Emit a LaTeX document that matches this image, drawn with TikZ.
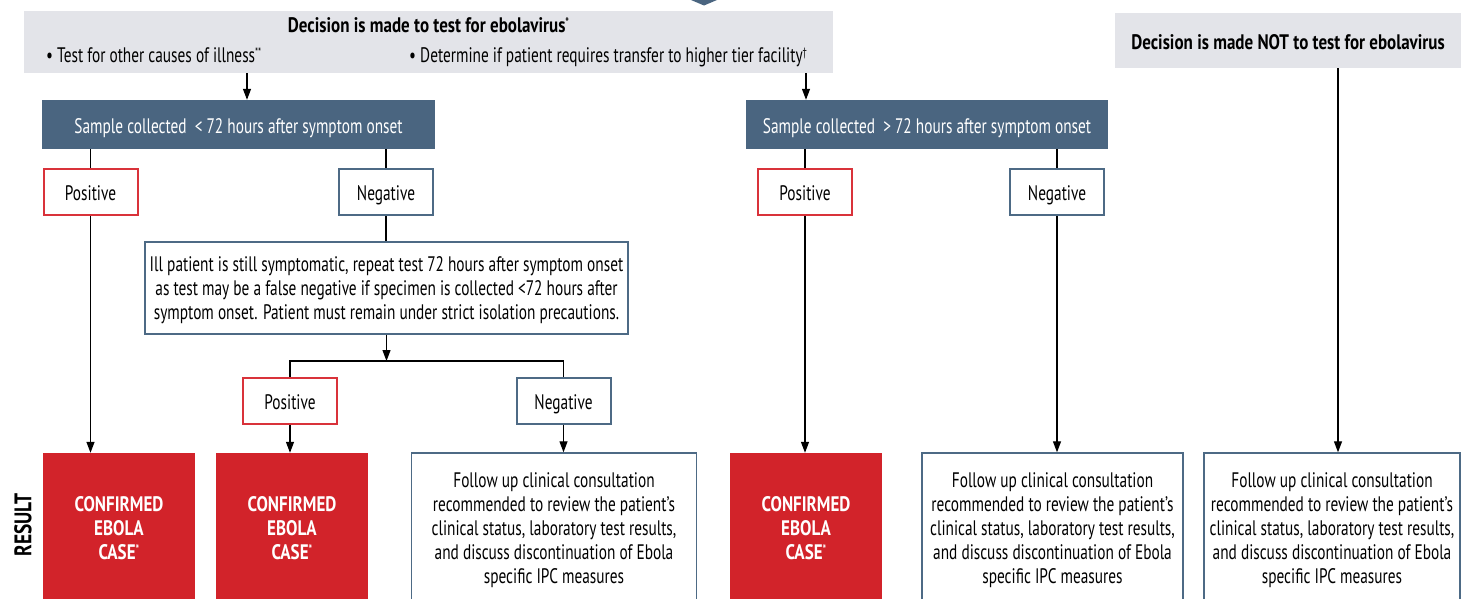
\documentclass[tikz,border=0pt]{standalone}
\usepackage{fontspec}
\setmainfont{PT Sans}[FakeStretch=0.73, BoldFeatures={FakeStretch=0.81}]
\usetikzlibrary{arrows.meta}
\definecolor{grayc}{HTML}{E3E4E9}
\definecolor{darkc}{HTML}{4A6580}
\definecolor{redc}{HTML}{D2232A}
\definecolor{posc}{HTML}{D9323A}
\definecolor{negc}{HTML}{4D6A85}
\newcommand{\txt}{\fontsize{21}{24}\selectfont}
\newcommand{\sstar}[1]{\raisebox{0.55ex}{\fontsize{12}{12}\selectfont #1}}
\tikzset{
  oneline/.style={text height=17pt, text depth=0pt},
  graybox/.style={fill=grayc, inner sep=0pt},
  darkbox/.style={fill=darkc, text=white, inner sep=0pt, font=\txt, oneline},
  posbox/.style={draw=posc, line width=2pt, fill=white, inner sep=0pt, minimum width=94pt, minimum height=46pt, font=\txt, oneline},
  negbox/.style={draw=negc, line width=2pt, fill=white, inner sep=0pt, minimum width=94pt, minimum height=46pt, font=\txt, oneline},
  redbox/.style={fill=redc, text=white, inner sep=0pt, minimum width=152pt, minimum height=150pt, align=center, font=\txt\bfseries, text depth=0pt},
  followbox/.style={draw=negc, line width=1.4pt, fill=white, inner sep=0pt, minimum height=150pt, align=center, font=\txt, text depth=0pt},
  conn/.style={line width=1.2pt, black},
  arr/.style={conn, -{Triangle[length=11pt,width=8pt]}},
  lbl/.style={inner sep=0pt, font=\txt}
}
\begin{document}
\begin{tikzpicture}[x=1pt, y=-1pt]
\useasboundingbox (0,0) rectangle (1461,598);
% top chevron
\fill[darkc] (691,0) -- (717,0) -- (704,5.5) -- cycle;
% gray decision box (test)
\node[graybox, minimum width=809pt, minimum height=62pt] (dec) at (428.5,42) {};
\node[lbl, anchor=base, font=\txt\bfseries] (dectitle) at (428.5,32) {Decision is made to test for ebolavirus\sstar{*}};
\node[lbl, anchor=base west] (bul1) at (46,62) {\textbullet\ Test for other causes of illness\sstar{**}};
\node[lbl, anchor=base west] (bul2) at (409,62) {\textbullet\ Determine if patient requires transfer to higher tier facility\sstar{\textdagger}};
% gray decision box (not test)
\node[graybox, oneline, minimum width=346pt, minimum height=55pt, font=\txt\bfseries] (notdec) at (1288,40.5) {Decision is made NOT to test for ebolavirus};
% sample boxes
\node[darkbox, minimum width=393pt, minimum height=49pt] (samp1) at (238.5,124.5) {Sample collected~ < 72 hours after symptom onset};
\node[darkbox, minimum width=362pt, minimum height=49pt] (samp2) at (927,124.5) {Sample collected~ > 72 hours after symptom onset};
% first results
\node[posbox] (pos1) at (90.5,192) {Positive};
\node[negbox] (neg1) at (386,192) {Negative};
\node[posbox] (pos3) at (805,192) {Positive};
\node[negbox] (neg3) at (1057,192) {Negative};
% ill patient box
\node[draw=negc, line width=1.2pt, fill=white, inner sep=0pt, minimum width=483pt, minimum height=92pt, align=center, font=\txt, text depth=0pt] (ill) at (386.5,288)
 {Ill patient is still symptomatic, repeat test 72 hours after symptom onset\\as test may be a false negative if specimen is collected <72 hours after\\symptom onset. Patient must remain under strict isolation precautions.};
\coordinate (junc) at (386.5,361);
% second results
\node[posbox] (pos2) at (290,400.5) {Positive};
\node[negbox] (neg2) at (563.5,400.5) {Negative};
% result boxes
\node[redbox] (red1) at (119,528) {CONFIRMED\\EBOLA\\CASE\sstar{*}};
\node[redbox] (red2) at (292,528) {CONFIRMED\\EBOLA\\CASE\sstar{*}};
\node[redbox] (red3) at (806,528) {CONFIRMED\\EBOLA\\CASE\sstar{*}};
\node[followbox, minimum width=285pt] (fol1) at (554,528) {Follow up clinical consultation\\recommended to review the patient’s\\clinical status, laboratory test results,\\and discuss discontinuation of Ebola\\specific IPC measures};
\node[followbox, minimum width=261pt] (fol2) at (1052.5,528) {Follow up clinical consultation\\recommended to review the patient’s\\clinical status, laboratory test results,\\and discuss discontinuation of Ebola\\specific IPC measures};
\node[followbox, minimum width=256pt] (fol3) at (1332,528) {Follow up clinical consultation\\recommended to review the patient’s\\clinical status, laboratory test results,\\and discuss discontinuation of Ebola\\specific IPC measures};
% RESULT label
\node[lbl, rotate=90, font=\fontsize{24}{24}\selectfont\bfseries] (res) at (23,525) {RESULT};
% connectors
\draw[arr] (dec.south -| 247,0) -- (samp1.north -| 247,0);
\draw[arr] (dec.south -| 806,0) -- (samp2.north -| 806,0);
\draw[conn] (samp1.south -| pos1.north) -- (pos1.north);
\draw[conn] (samp1.south -| neg1.north) -- (neg1.north);
\draw[conn] (samp2.south -| pos3.north) -- (pos3.north);
\draw[conn] (samp2.south -| neg3.north) -- (neg3.north);
\draw[conn] (neg1.south) -- (neg1.south |- ill.north);
\draw[arr] (ill.south -| junc) -- (junc);
\draw[conn] (pos2.north) -- (pos2.north |- junc) -- (neg2.north |- junc) -- (neg2.north);
\draw[arr] (pos1.south) -- (pos1.south |- red1.north);
\draw[arr] (pos2.south) -- (pos2.south |- red2.north);
\draw[arr] (neg2.south) -- (neg2.south |- fol1.north);
\draw[arr] (pos3.south) -- (pos3.south |- red3.north);
\draw[arr] (neg3.south) -- (neg3.south |- fol2.north);
\draw[arr] (notdec.south -| 1338,0) -- (fol3.north -| 1338,0);
\end{tikzpicture}
\end{document}
